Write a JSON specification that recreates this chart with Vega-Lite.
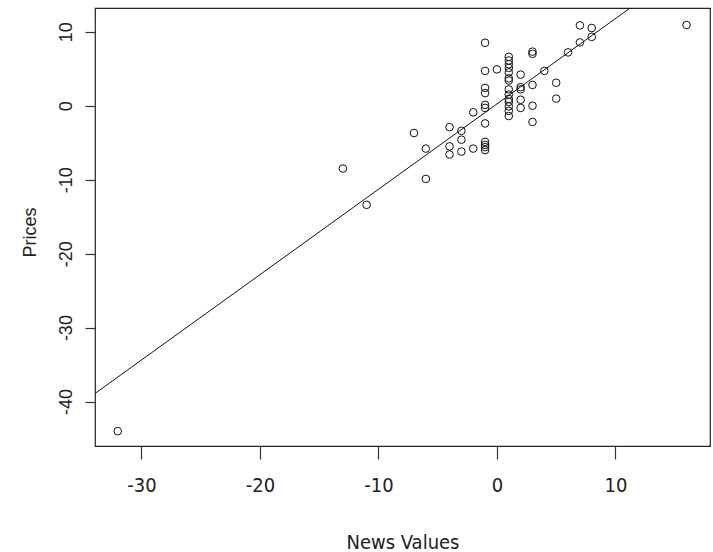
{
  "$schema": "https://vega.github.io/schema/vega-lite/v6.json",
  "width": 615,
  "height": 438,
  "autosize": "none",
  "padding": {"left": 95, "top": 8, "right": 3, "bottom": 106},
  "background": "white",
  "config": {
    "view": {"stroke": "#222", "strokeWidth": 1.2},
    "font": "Liberation Sans"
  },
  "datasets": {
    "points": [
      {"news": -32, "price": -44},
      {"news": -13, "price": -8.5},
      {"news": -11, "price": -13.4},
      {"news": -7, "price": -3.7},
      {"news": -6, "price": -5.8},
      {"news": -6, "price": -9.9},
      {"news": -4, "price": -2.9},
      {"news": -4, "price": -5.5},
      {"news": -4, "price": -6.6},
      {"news": -3, "price": -3.4},
      {"news": -3, "price": -4.6},
      {"news": -3, "price": -6.2},
      {"news": -2, "price": -0.9},
      {"news": -2, "price": -5.8},
      {"news": -1, "price": 8.5},
      {"news": -1, "price": 4.7},
      {"news": -1, "price": 2.4},
      {"news": -1, "price": 1.7},
      {"news": -1, "price": 0.1},
      {"news": -1, "price": -0.3},
      {"news": -1, "price": -2.4},
      {"news": -1, "price": -4.9},
      {"news": -1, "price": -5.3},
      {"news": -1, "price": -5.6},
      {"news": -1, "price": -6.0},
      {"news": 0, "price": 4.9},
      {"news": 1, "price": 6.6},
      {"news": 1, "price": 6.1},
      {"news": 1, "price": 5.6},
      {"news": 1, "price": 5.1},
      {"news": 1, "price": 4.5},
      {"news": 1, "price": 3.7},
      {"news": 1, "price": 3.4},
      {"news": 1, "price": 2.2},
      {"news": 1, "price": 1.5},
      {"news": 1, "price": 0.9},
      {"news": 1, "price": 0.5},
      {"news": 1, "price": -0.1},
      {"news": 1, "price": -0.7},
      {"news": 1, "price": -1.4},
      {"news": 2, "price": 4.2},
      {"news": 2, "price": 2.5},
      {"news": 2, "price": 2.2},
      {"news": 2, "price": 0.8},
      {"news": 2, "price": -0.3},
      {"news": 3, "price": 7.3},
      {"news": 3, "price": 7.0},
      {"news": 3, "price": 2.8},
      {"news": 3, "price": 0.0},
      {"news": 3, "price": -2.2},
      {"news": 4, "price": 4.7},
      {"news": 5, "price": 3.1},
      {"news": 5, "price": 0.95},
      {"news": 6, "price": 7.2},
      {"news": 7, "price": 10.85},
      {"news": 7, "price": 8.55},
      {"news": 8, "price": 10.5},
      {"news": 8, "price": 9.3},
      {"news": 16, "price": 10.9}
    ],
    "fit": [
      {"news": -33.92, "price": -38.9},
      {"news": 18, "price": 21.0}
    ]
  },
  "layer": [
    {
      "data": {"name": "fit"},
      "mark": {"type": "line", "color": "#111", "strokeWidth": 1, "clip": true},
      "encoding": {
        "x": {"field": "news", "type": "quantitative"},
        "y": {"field": "price", "type": "quantitative"}
      }
    },
    {
      "data": {"name": "points"},
      "mark": {"type": "point", "shape": "circle", "filled": false, "color": "#111", "size": 58, "strokeWidth": 1, "opacity": 1},
      "encoding": {
        "x": {
          "field": "news",
          "type": "quantitative",
          "scale": {"domain": [-33.92, 17.98], "nice": false, "zero": false},
          "axis": {
            "title": "News Values",
            "values": [-30, -20, -10, 0, 10],
            "labelExpr": "replace(datum.label, '\u2212', '-')",
            "grid": false,
            "domain": false,
            "tickSize": 13,
            "tickColor": "#333",
            "tickWidth": 1.2,
            "labelFont": "DejaVu Sans Condensed, Liberation Sans",
            "labelFontSize": 20,
            "labelColor": "#222",
            "labelPadding": 16,
            "titleFont": "DejaVu Sans Condensed, Liberation Sans",
            "titleFontSize": 20,
            "titleFontWeight": "normal",
            "titleColor": "#222",
            "titleY": 102,
            "titleBaseline": "alphabetic"
          }
        },
        "y": {
          "field": "price",
          "type": "quantitative",
          "scale": {"domain": [-46.0, 13.2], "nice": false, "zero": false},
          "axis": {
            "title": "Prices",
            "values": [-40, -30, -20, -10, 0, 10],
            "labelExpr": "replace(datum.label, '\u2212', '-')",
            "grid": false,
            "domain": false,
            "tickSize": 10,
            "tickColor": "#333",
            "tickWidth": 1.2,
            "labelAngle": 270,
            "labelAlign": "center",
            "labelBaseline": "bottom",
            "labelFontSize": 18,
            "labelColor": "#222",
            "labelPadding": 10,
            "titleFontSize": 18,
            "titleFontWeight": "normal",
            "titleColor": "#222",
            "titleAngle": 270,
            "titleX": -60,
            "titleY": 224,
            "titleAlign": "center",
            "titleBaseline": "alphabetic"
          }
        }
      }
    }
  ]
}
